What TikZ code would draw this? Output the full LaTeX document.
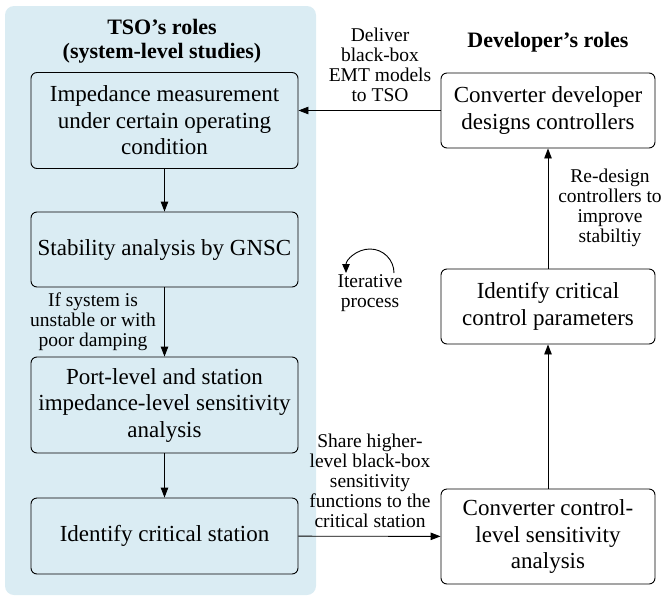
\documentclass[tikz,border=0pt]{standalone}
\usepackage{fontspec}
\setmainfont{Liberation Serif}
\usetikzlibrary{arrows.meta}
\definecolor{panelblue}{RGB}{218,236,243}
\begin{document}
\begin{tikzpicture}[x=1pt,y=-1pt,
 box/.style={draw=black, line width=0.9pt, rounded corners=6pt, inner sep=0pt, align=center, font=\fontsize{23}{26.5}\selectfont},
 lbox/.style={box, minimum width=267pt},
 rbox/.style={box, minimum width=214pt},
 lab/.style={align=center, inner sep=0pt, font=\fontsize{19.5}{20}\selectfont},
 ttl/.style={align=center, inner sep=0pt, font=\bfseries\fontsize{22}{24}\selectfont},
 arr/.style={line width=0.9pt, -{Triangle[length=10pt,width=7.5pt]}}]
\useasboundingbox (0,0) rectangle (662,598);
\fill[panelblue, rounded corners=9pt] (5,6) rectangle (316,595);
% titles
\node[ttl] (t1) at (162,41) {TSO’s roles\\(system-level studies)};
\node[ttl] (t2) at (548,42) {Developer’s roles};
% left boxes
\node[lbox, minimum height=96pt] (b1) at (164.5,120.5) {Impedance measurement\\under certain operating\\condition};
\node[lbox, minimum height=75pt] (b2) at (164.5,249.5) {Stability analysis by GNSC};
\node[lbox, minimum height=96pt] (b3) at (164.5,405) {Port-level and station\\impedance-level sensitivity\\analysis};
\node[lbox, minimum height=76pt] (b4) at (164.5,536) {Identify critical station};
% right boxes
\node[rbox, minimum height=75pt] (b5) at (548,110.5) {Converter developer\\designs controllers};
\node[rbox, minimum height=75pt] (b6) at (548,306.5) {Identify critical\\control parameters};
\node[rbox, minimum height=95pt] (b7) at (548,536.5) {Converter control-\\level sensitivity\\analysis};
% labels
\node[lab] (l1) at (380,65) {Deliver\\black-box\\EMT models\\to TSO};
\node[lab] (l2) at (610,208) {Re-design\\controllers to\\improve\\stabiltiy};
\node[lab] (l3) at (93,322) {If system is\\unstable or with\\poor damping};
\node[lab] (l4) at (370,481) {Share higher-\\level black-box\\sensitivity\\functions to the\\critical station};
\node[lab] (l5) at (370,293) {Iterative\\process};
% connectors
\draw[arr] (b1) -- (b2);
\draw[arr] (b2) -- (b3);
\draw[arr] (b3) -- (b4);
\draw[arr] (b4) -- (b7);
\draw[arr] (b7) -- (b6);
\draw[arr] (b6) -- (b5);
\draw[arr] (b5.west) -- (b5.west -| b1.east);
% iterative arc
\coordinate (arcstart) at (394,273);
\draw[line width=0.9pt, -{Triangle[length=9pt,width=7.5pt]}] (arcstart) arc[start angle=0, end angle=-180, radius=24];
\end{tikzpicture}
\end{document}
